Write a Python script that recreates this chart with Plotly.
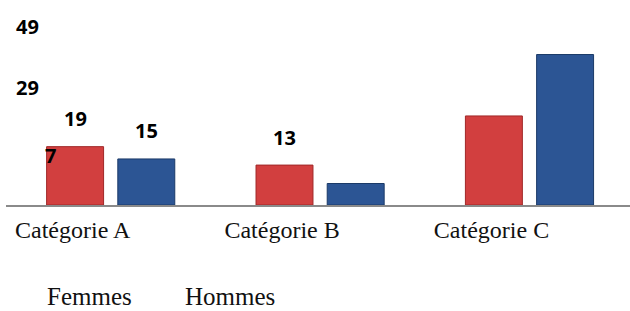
import plotly.graph_objects as go

categories = ["Catégorie A", "Catégorie B", "Catégorie C"]
series_names = ["Femmes", "Hommes"]
femmes = [19, 13, 29]
hommes = [15, 7, 49]

W, H = 630, 311
L, R, T, B = 6, 0, 10, 106
PW, PH = W - L - R, H - T - B
YMAX = 63.5

red = "#d23f3f"
blue = "#2c5594"

fig = go.Figure()
fig.add_trace(go.Bar(x=list(range(len(categories))), y=femmes, name=series_names[0],
                     marker=dict(color=red, line=dict(color="#a02828", width=1))))
fig.add_trace(go.Bar(x=list(range(len(categories))), y=hommes, name=series_names[1],
                     marker=dict(color=blue, line=dict(color="#1b3a68", width=1))))

label_font = dict(family="Open Sans", size=20, color="#000000", weight="bold")
off = 0.17


def px_to_paper_x(px):
    return (px - L) / PW


def px_to_paper_y(py):
    return (T + PH - py) / PH


# Labels drawn at their bars (Femmes A, Hommes A, Femmes B)
normal = [(0 - off, femmes[0]), (0 + off, hommes[0]), (1 - off, femmes[1])]
for xv, v in normal:
    fig.add_annotation(x=xv, y=v, xref="x", yref="y", text=str(v), showarrow=False,
                       yshift=28, font=label_font, xanchor="center", yanchor="middle")

# Labels that sit displaced on the left side in the original
displaced = [(51, hommes[1]), (27, femmes[2]), (27, hommes[2])]
for pxx, v in displaced:
    fig.add_annotation(x=px_to_paper_x(pxx), y=v, xref="paper", yref="y", text=str(v),
                       showarrow=False, yshift=28, font=label_font,
                       xanchor="center", yanchor="middle")

# Legend texts (no symbols in the original)
legend_font = dict(family="Liberation Serif", size=25, color="#111111")
for name, pxx in zip(series_names, [89, 230]):
    fig.add_annotation(x=px_to_paper_x(pxx), y=px_to_paper_y(296), xref="paper", yref="paper",
                       text=name, showarrow=False, font=legend_font,
                       xanchor="center", yanchor="middle")

fig.update_layout(
    width=W, height=H,
    margin=dict(l=L, r=R, t=T, b=B, autoexpand=False),
    paper_bgcolor="white", plot_bgcolor="white",
    barmode="group", bargap=0.32, bargroupgap=0.2,
    showlegend=False,
    xaxis=dict(
        range=[-0.5, 2.48],
        tickmode="array", tickvals=list(range(len(categories))), ticktext=categories,
        showline=True, linecolor="#8a8a8a", linewidth=2,
        showgrid=False, zeroline=False, ticks="", automargin=False,
        tickfont=dict(family="Liberation Serif", size=24, color="#111111"),
        ticklabelshift=-38, ticklabelstandoff=2,
    ),
    yaxis=dict(range=[0, YMAX], visible=False, showgrid=False, zeroline=False),
)

fig.write_html("out.html", config={"displayModeBar": False},
               post_script="document.body.style.margin='0';")
